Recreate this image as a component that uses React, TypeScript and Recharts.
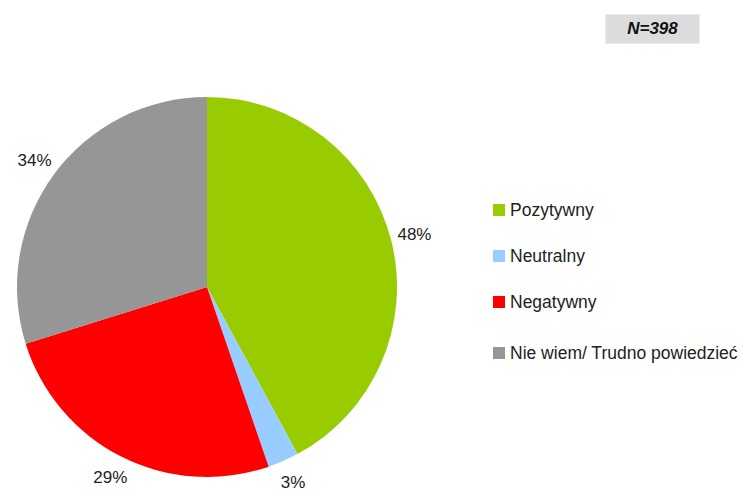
import { PieChart, Pie, Cell, Legend } from "recharts";

const categories = ["Pozytywny", "Neutralny", "Negatywny", "Nie wiem/ Trudno powiedzieć"];
const values = [48, 3, 29, 34];
const colors = ["#99cc00", "#99ccff", "#ff0000", "#969696"];
const sampleLabel = "N=398";

const data = categories.map((name, i) => ({ name, value: values[i] }));

const RAD = Math.PI / 180;
const FONT = "'Liberation Sans', Arial, sans-serif";

function renderLabel(props: any) {
  const { cx, cy, midAngle, outerRadius, value } = props;
  const r = outerRadius + 24;
  const x = cx + r * Math.cos(-midAngle * RAD);
  const y = cy + r * Math.sin(-midAngle * RAD);
  return (
    <text x={x} y={y} textAnchor="middle" dominantBaseline="central" fill="#222" fontSize={17} fontFamily={FONT}>
      {value}%
    </text>
  );
}

// legend drawn in the data order (recharts would sort it)
function LegendBox() {
  return (
    <div style={{ fontFamily: FONT, fontSize: 17.5, color: "#222" }}>
      {categories.map((name, i) => (
        <div key={name} style={{ display: "flex", alignItems: "center", height: 20, marginBottom: i === 2 ? 31 : 26 }}>
          <span style={{ width: 12, height: 12, background: colors[i], display: "inline-block", marginRight: 5 }} />
          <span>{name}</span>
        </div>
      ))}
    </div>
  );
}

export default function App() {
  return (
    <div style={{ position: "absolute", left: 0, top: 0, width: 744, height: 491, background: "#fff" }}>
      <PieChart width={744} height={491} margin={{ top: 0, right: 0, bottom: 0, left: 0 }}>
        <Pie
          data={data}
          dataKey="value"
          nameKey="name"
          cx={207}
          cy={287}
          outerRadius={190}
          startAngle={90}
          endAngle={-270}
          stroke="none"
          label={renderLabel}
          labelLine={false}
          isAnimationActive={false}
        >
          {data.map((_, idx) => (
            <Cell key={`cell-${idx}`} fill={colors[idx % colors.length]} />
          ))}
        </Pie>
        <Legend layout="vertical" content={<LegendBox />} wrapperStyle={{ left: 493, top: 200, width: 251 }} />
      </PieChart>
      <div
        style={{
          position: "absolute",
          left: 605,
          top: 14,
          width: 95,
          height: 30,
          background: "#dcdcdc",
          border: "1px solid #ececec",
          boxSizing: "border-box",
          display: "flex",
          alignItems: "center",
          justifyContent: "center",
          fontFamily: FONT,
          fontWeight: "bold",
          fontStyle: "italic",
          fontSize: 17,
          color: "#111",
        }}
      >
        {sampleLabel}
      </div>
    </div>
  );
}
